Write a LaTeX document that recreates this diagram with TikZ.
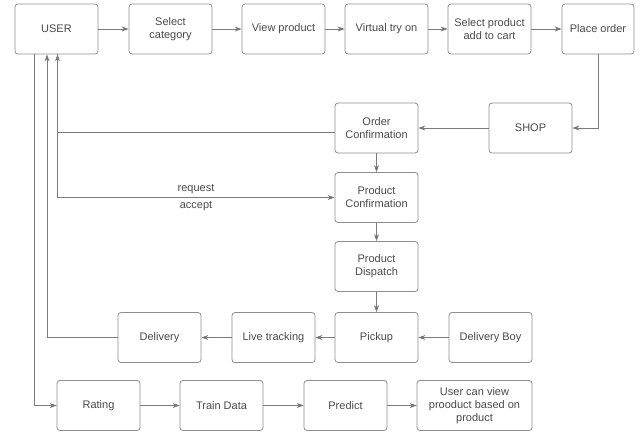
\documentclass[tikz,border=0pt]{standalone}
\usepackage{fontspec}
\setmainfont{Liberation Sans}
\usetikzlibrary{arrows.meta}
\definecolor{ecink}{HTML}{4A4A4A}
\definecolor{ecedge}{HTML}{8E8E8E}
\definecolor{ecline}{HTML}{7A7A7A}
\definecolor{ectip}{HTML}{4A4A4A}
\tikzset{
  ec text/.style={font=\fontsize{11}{13}\selectfont, text=ecink},
  ec box/.style={draw=ecedge, line width=0.8pt, rounded corners=3pt, fill=white,
    minimum width=83pt, minimum height=50pt, align=center, inner sep=2pt,
    font=\fontsize{11}{13}\selectfont},
  ec arrow/.style={-{Stealth[length=7pt,width=5pt,fill=ectip]}, line width=0.8pt,
    draw=ecline},
  ec note/.style={font=\fontsize{11}{13}\selectfont, text=ecink, inner sep=3pt}
}

\begin{document}
\begin{tikzpicture}[ec text, x=1pt, y=-1pt]
  \useasboundingbox (0,0) rectangle (642,432);
  % top row
  \node[ec box] (user) at (56.5,29) {USER};
  \node[ec box] (selcat) at (170.5,29) {Select\\category};
  \node[ec box] (view) at (283.5,29) {View product};
  \node[ec box] (tryon) at (386.5,29) {Virtual try on};
  \node[ec box] (cart) at (489.5,29) {Select product\\add to cart};
  \node[ec box, minimum width=72pt] (place) at (598,29) {Place order};
  % shop side
  \node[ec box] (shop) at (530.5,128) {SHOP};
  \node[ec box] (ordconf) at (376.5,128) {Order\\Confirmation};
  \node[ec box] (prodconf) at (376.5,197.5) {Product\\Confirmation};
  \node[ec box] (dispatch) at (376.5,266.5) {Product\\Dispatch};
  % delivery row
  \node[ec box] (pickup) at (376.5,337.5) {Pickup};
  \node[ec box] (boy) at (490.5,337.5) {Delivery Boy};
  \node[ec box] (track) at (273.5,337.5) {Live tracking};
  \node[ec box] (delivery) at (159.5,337.5) {Delivery};
  % rating row
  \node[ec box] (rating) at (98.5,405.5) {Rating};
  \node[ec box] (train) at (221.5,405.5) {Train Data};
  \node[ec box] (predict) at (345.5,405.5) {Predict};
  \node[ec box, minimum width=115pt] (predview) at (474.5,405.5) {User can view\\prooduct based on\\product};

  \draw[ec arrow] (user) -- (selcat);
  \draw[ec arrow] (selcat) -- (view);
  \draw[ec arrow] (view) -- (tryon);
  \draw[ec arrow] (tryon) -- (cart);
  \draw[ec arrow] (cart) -- (place);
  \draw[ec arrow] (place.south) |- (shop.east);
  \draw[ec arrow] (shop) -- (ordconf);
  \draw[ec arrow] (ordconf) -- (prodconf);
  \draw[ec arrow] (prodconf) -- (dispatch);
  \draw[ec arrow] (dispatch) -- (pickup);
  \draw[ec arrow] (boy) -- (pickup);
  \draw[ec arrow] (pickup) -- (track);
  \draw[ec arrow] (track) -- (delivery);
  \draw[ec arrow] (rating) -- (train);
  \draw[ec arrow] (train) -- (predict);
  \draw[ec arrow] (predict) -- (predview);

  % back to the user
  \draw[ec arrow] ([yshift=-4pt]ordconf.west) -| ([xshift=1pt]user.south);
  \draw[ec arrow] ([xshift=1pt]user.south) |- (prodconf.west)
    node[ec note, pos=0.75, above] {request}
    node[ec note, pos=0.75, below] {accept};
  \draw[ec arrow] (delivery.west) -| ([xshift=-9.5pt]user.south);
  \draw[ec arrow] ([xshift=-22.5pt]user.south) |- (rating.west);
\end{tikzpicture}
\end{document}
